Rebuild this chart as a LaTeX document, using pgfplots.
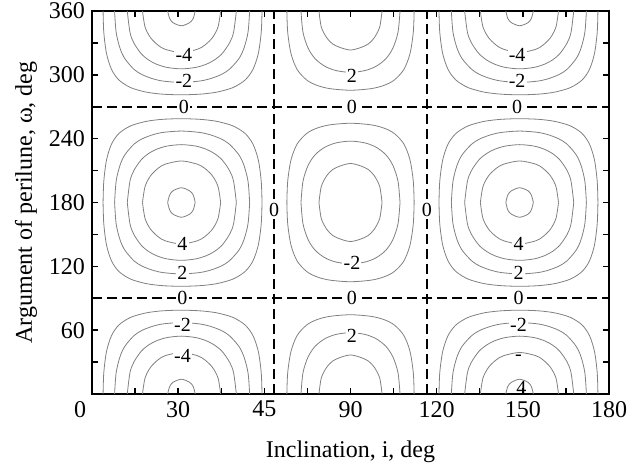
\documentclass[border=0pt]{standalone}
\usepackage{fontspec}
\setmainfont{Liberation Serif}
\usepackage{pgfplots}
\usepackage{pgfplotstable}
\pgfplotsset{compat=1.18}

\tikzset{
  cl/.style={black!50, line width=0.4pt, smooth},
  zl/.style={black, line width=0.8pt, dash pattern=on 5pt off 2.5pt},
  lab/.style={fill=white, inner sep=0.6pt, font=\fontsize{10}{11}\selectfont},
}

% Contour branches of the perilune rate: for each level, the inclination i
% and the angular half-width d (deg) measured from omega = 0, 180 or 360.
% Outer lobe (0 < i < 63.4 deg), levels 1..5
\pgfplotstableread{
i d
3.855 0
4.107 20
5.057 40
6.814 55
9.42 65
13.43 72
18.42 76
22.0 77.5
25.26 78.3
31.1 78.8
36.88 78.3
40.24 77.5
43.93 76
49.06 72
53.25 65
56.02 55
57.90 40
58.92 20
59.19 0
}\levA
\pgfplotstableread{
i d
7.868 0
8.407 20
9.747 35
11.486 45
14.686 55
17.58 60
21.53 64
25.09 66
31.1 67.15
37.05 66
40.72 64
44.79 60
47.75 55
51.09 45
52.90 35
54.32 20
54.89 0
}\levB
\pgfplotstableread{
i d
12.28 0
13.22 20
14.57 30
17.09 40
19.67 46
22.45 50
26.05 53
31.1 54.38
36.15 53
39.82 50
42.63 46
45.31 40
47.88 30
49.29 20
50.26 0
}\levC
\pgfplotstableread{
i d
17.58 0
18.47 15
20.36 25
22.94 32
25.46 36
31.1 39.04
36.69 36
39.31 32
41.95 25
43.88 15
44.79 0
}\levD
\pgfplotstableread{
i d
26.33 0
27.04 7
28.21 11
31.1 13.86
33.97 11
35.25 7
35.92 0
}\levE
% Middle lobe (63.4 < i < 116.6 deg), levels 1..3
\pgfplotstableread{
i d
67.84 0
68.14 20
69.28 40
71.42 55
74.81 65
78.43 70
82.88 73
90 74.49
97.12 73
101.57 70
105.19 65
108.58 55
110.72 40
111.86 20
112.16 0
}\midA
\pgfplotstableread{
i d
72.76 0
73.46 20
75.26 35
77.74 45
81.12 52
84.98 56
90 57.67
95.02 56
98.88 52
102.26 45
104.74 35
106.54 20
107.24 0
}\midB
\pgfplotstableread{
i d
79.02 0
79.83 15
81.68 25
83.81 31
86.59 34.5
90 36.67
93.41 34.5
96.19 31
98.32 25
100.17 15
100.98 0
}\midC

% one branch table -> ring about omega=180 plus arcs at omega=0 and 360
\newcommand\branch[1]{%
  \addplot[cl] table[x=i, y expr=180-\thisrow{d}] {#1};
  \addplot[cl] table[x=i, y expr=180+\thisrow{d}] {#1};
  \addplot[cl] table[x=i, y=d] {#1};
  \addplot[cl] table[x=i, y expr=360-\thisrow{d}] {#1};
}
% same, reflected about i = 90 deg
\newcommand\branchR[1]{%
  \addplot[cl] table[x expr=180-\thisrow{i}, y expr=180-\thisrow{d}] {#1};
  \addplot[cl] table[x expr=180-\thisrow{i}, y expr=180+\thisrow{d}] {#1};
  \addplot[cl] table[x expr=180-\thisrow{i}, y=d] {#1};
  \addplot[cl] table[x expr=180-\thisrow{i}, y expr=360-\thisrow{d}] {#1};
}

\begin{document}
\begin{tikzpicture}
\path[use as bounding box] (-46pt,-37.5pt) rectangle (275.5pt,197pt);
\begin{axis}[
  scale only axis, width=258.5pt, height=191.5pt,
  xmin=0, xmax=180, ymin=0, ymax=360,
  xtick={15,30,...,180},
  xticklabels={{},30,{},45,{},90,{},120,{},150,{},180},
  extra x ticks={0}, extra x tick labels={0},
  extra x tick style={major tick length=0pt, xticklabel style={xshift=-6pt}},
  ytick={30,60,...,360},
  yticklabels={{},60,{},120,{},180,{},240,{},300,{},360},
  tick align=inside, major tick length=3pt,
  tick style={black, line width=0.7pt},
  axis line style={line width=1.1pt},
  ticklabel style={font=\fontsize{12}{14}\selectfont},
  label style={font=\fontsize{12}{14}\selectfont},
  xlabel={Inclination, i, deg},
  ylabel={Argument of perilune, ω, deg},
  xlabel style={at={(axis description cs:0.5,-0.1514)}, anchor=center},
  ylabel style={at={(axis description cs:-0.1277,0.5)}, anchor=center},
  every axis plot/.append style={no markers},
]
\branch{\levA}\branch{\levB}\branch{\levC}\branch{\levD}\branch{\levE}
\branchR{\levA}\branchR{\levB}\branchR{\levC}\branchR{\levD}\branchR{\levE}
\branch{\midA}\branch{\midB}\branch{\midC}

% zero contours
\addplot[zl] coordinates {(0,90) (180,90)};
\addplot[zl] coordinates {(0,270) (180,270)};
\addplot[zl] coordinates {(63.43,0) (63.43,360)};
\addplot[zl] coordinates {(116.57,0) (116.57,360)};

% level labels
\node[lab] at (axis cs:32,319) {-4};
\node[lab] at (axis cs:32,294) {-2};
\node[lab] at (axis cs:32,270) {0};
\node[lab] at (axis cs:90.5,299) {2};
\node[lab] at (axis cs:90.5,270) {0};
\node[lab] at (axis cs:148,319) {-4};
\node[lab] at (axis cs:148,294) {-2};
\node[lab] at (axis cs:148,270) {0};
\node[lab] at (axis cs:63.43,173) {0};
\node[lab] at (axis cs:116.57,173) {0};
\node[lab] at (axis cs:31.5,141) {4};
\node[lab] at (axis cs:31.5,114) {2};
\node[lab] at (axis cs:31.5,90) {0};
\node[lab] at (axis cs:31.5,65) {-2};
\node[lab] at (axis cs:31.5,36) {-4};
\node[lab] at (axis cs:90.5,123) {-2};
\node[lab] at (axis cs:90.5,90) {0};
\node[lab] at (axis cs:90.5,55) {2};
\node[lab] at (axis cs:148.5,141) {4};
\node[lab] at (axis cs:148.5,114) {2};
\node[lab] at (axis cs:148.5,90) {0};
\node[lab] at (axis cs:148.5,65) {-2};
\node[lab] at (axis cs:148.5,34) {-};
\node[inner sep=0.6pt, font=\fontsize{10}{11}\selectfont] at (axis cs:149.5,6) {4};
\end{axis}
\end{tikzpicture}
\end{document}
